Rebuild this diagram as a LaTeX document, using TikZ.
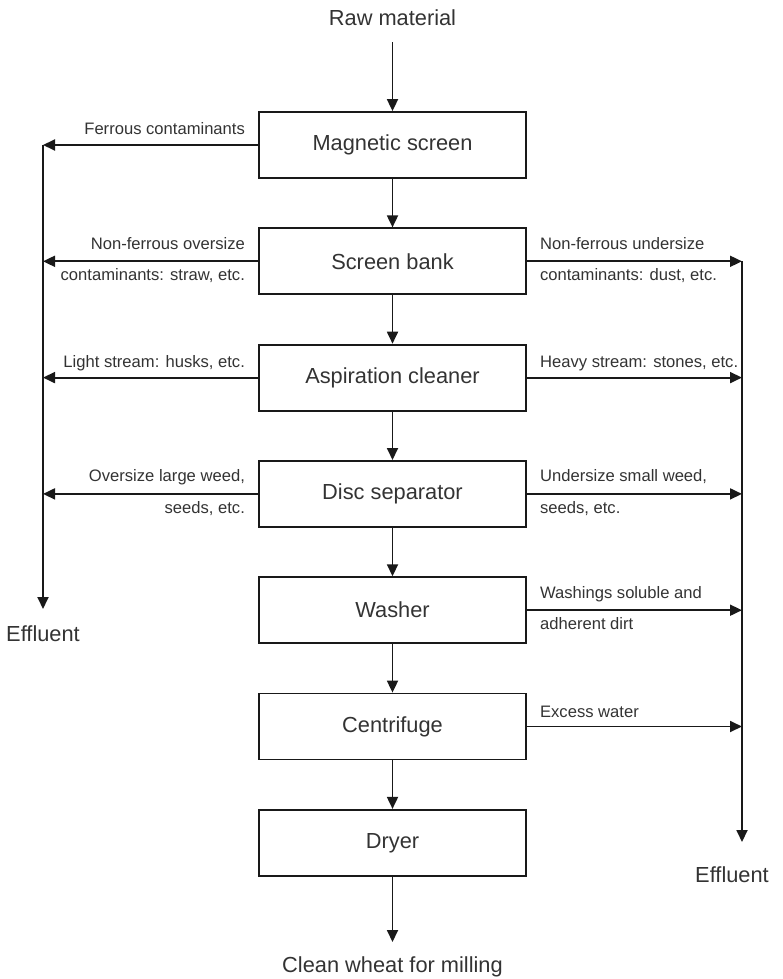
\documentclass[tikz,border=0pt]{standalone}
\usepackage{fontspec}
\setmainfont{Liberation Sans}
\usetikzlibrary{positioning,arrows.meta}
\tikzset{
  box/.style={draw=black!90,line width=1.8pt,minimum width=267pt,minimum height=66pt,inner sep=0pt,font=\fontsize{21.8}{26}\selectfont,text=black!80},
  flow/.style={draw=black!90,line width=1.8pt,-{Triangle[length=12pt,width=11pt]}},
  lbl/.style={font=\fontsize{16.6}{20}\selectfont,text=black!80,inner sep=0pt},
  term/.style={font=\fontsize{21.8}{26}\selectfont,text=black!80,inner sep=0pt}
}
\begin{document}
\begin{tikzpicture}[x=1pt,y=-1pt]
    \useasboundingbox (0,0) rectangle (783,979);
    \node[box] (mag) at (392.5,145) {Magnetic screen};
    \node[box,below=48.5pt of mag] (bank) {Screen bank};
    \node[box,below=48.5pt of bank] (asp) {Aspiration cleaner};
    \node[box,below=48.5pt of asp] (disc) {Disc separator};
    \node[box,below=48.5pt of disc] (wash) {Washer};
    \node[box,below=48.5pt of wash] (cent) {Centrifuge};
    \node[box,below=48.5pt of cent] (dry) {Dryer};
    \node[term,anchor=base] (raw) at (392.5,26) {Raw material};
    \node[term,anchor=base] (wheat) at (392.5,972) {Clean wheat for milling};
    \node[term,anchor=base] (effl) at (43,641) {Effluent};
    \node[term,anchor=base] (effr) at (732,882) {Effluent};
    \coordinate (lx) at (43,0);
    \coordinate (rx) at (742,0);
    \coordinate (lend) at (43,609);
    \coordinate (rend) at (742,842);
    \draw[flow] ([yshift=-16pt]raw.south) -- (mag);
    \foreach \a/\b in {mag/bank,bank/asp,asp/disc,disc/wash,wash/cent,cent/dry}
        \draw[flow] (\a) -- (\b);
    \draw[flow] (dry) -- ([yshift=14pt]wheat.north);
    \foreach \n in {mag,bank,asp,disc}
        \draw[flow] (\n.west) -- (\n.west -| lx);
    \foreach \n in {bank,asp,disc,wash,cent}
        \draw[flow] (\n.east) -- (\n.east -| rx);
    \draw[flow] (mag.west -| lx) -- (lend);
    \draw[flow] (bank.east -| rx) -- (rend);
    \node[lbl,anchor=base east] (ferr) at ([xshift=-13pt,yshift=10pt]mag.west) {Ferrous contaminants};
    \node[lbl,anchor=base east] (over1) at ([xshift=-13pt,yshift=12pt]bank.west) {Non-ferrous oversize};
    \node[lbl,anchor=base east] (over2) at ([xshift=-13pt,yshift=-19.5pt]bank.west) {contaminants: straw, etc.};
    \node[lbl,anchor=base west] (under1) at ([xshift=13pt,yshift=12pt]bank.east) {Non-ferrous undersize};
    \node[lbl,anchor=base west] (under2) at ([xshift=13pt,yshift=-19.5pt]bank.east) {contaminants: dust, etc.};
    \node[lbl,anchor=base east] (light) at ([xshift=-13pt,yshift=10pt]asp.west) {Light stream: husks, etc.};
    \node[lbl,anchor=base west] (heavy) at ([xshift=13pt,yshift=10pt]asp.east) {Heavy stream: stones, etc.};
    \node[lbl,anchor=base east] (large1) at ([xshift=-13pt,yshift=12pt]disc.west) {Oversize large weed,};
    \node[lbl,anchor=base east] (large2) at ([xshift=-13pt,yshift=-19.5pt]disc.west) {seeds, etc.};
    \node[lbl,anchor=base west] (small1) at ([xshift=13pt,yshift=12pt]disc.east) {Undersize small weed,};
    \node[lbl,anchor=base west] (small2) at ([xshift=13pt,yshift=-19.5pt]disc.east) {seeds, etc.};
    \node[lbl,anchor=base west] (dirt1) at ([xshift=13pt,yshift=12pt]wash.east) {Washings soluble and};
    \node[lbl,anchor=base west] (dirt2) at ([xshift=13pt,yshift=-19.5pt]wash.east) {adherent dirt};
    \node[lbl,anchor=base west] (water) at ([xshift=13pt,yshift=9pt]cent.east) {Excess water};
\end{tikzpicture}
\end{document}
